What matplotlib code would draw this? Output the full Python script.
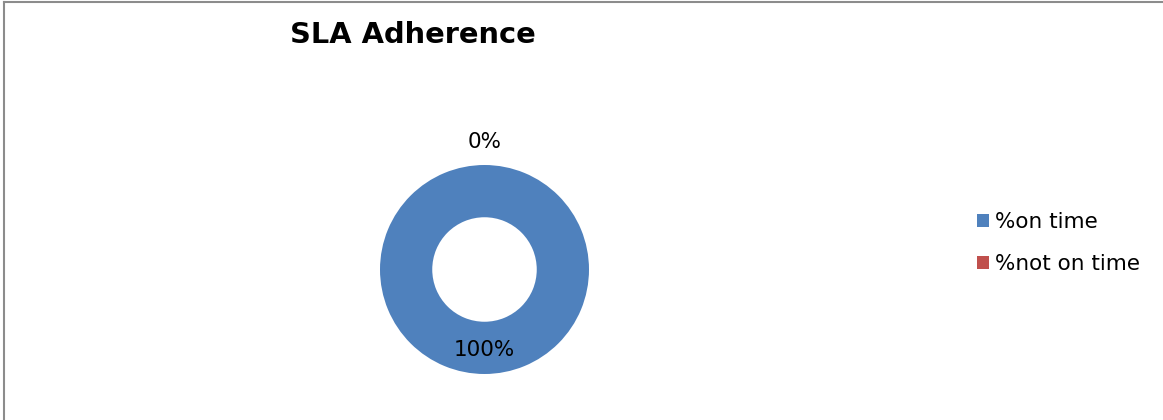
import matplotlib
matplotlib.use("Agg")
import matplotlib.pyplot as plt
from matplotlib.patches import Patch
from matplotlib.lines import Line2D
import numpy as np

categories = ["%on time", "%not on time"]
shares = [100, 0]
colors = ["#4f81bd", "#c0504d"]
pct_labels = ["100%", "0%"]

W, H = 1163, 420
fig = plt.figure(figsize=(W / 100, H / 100), dpi=100)
ax = fig.add_axes([0, 0, 1, 1])
ax.set_xlim(0, W)
ax.set_ylim(0, H)
ax.axis("off")

cx, cy, r = 484.5, H - 269.5, 104.5
wedges, _ = ax.pie(shares, colors=colors, startangle=90, counterclock=False,
                   center=(cx, cy), radius=r,
                   wedgeprops=dict(width=r * 0.5, edgecolor="none"))
ax.set_xlim(0, W)
ax.set_ylim(0, H)
ax.set_aspect("equal")

# data labels: big slice inside the ring, empty slice above it
for w, lab, dist in zip(wedges, pct_labels, [0.77, 1.22]):
    ang = np.deg2rad((w.theta1 + w.theta2) / 2)
    ax.text(cx + dist * r * np.cos(ang), cy + dist * r * np.sin(ang), lab,
            ha="center", va="center", fontsize=15.5, color="black")

fig.text(290 / W, 1 - 35 / H, "SLA Adherence", fontsize=20.8, fontweight="bold",
         ha="left", va="center")

handles = [Patch(facecolor=c, edgecolor="none") for c in colors]
fig.legend(handles, categories, loc="center left",
           bbox_to_anchor=(977 / W, 1 - 243 / H), frameon=False,
           fontsize=15.5, handlelength=0.55, handleheight=0.55,
           handletextpad=0.3, labelspacing=1.05, borderpad=0, borderaxespad=0)

# chart border (top and left visible)
fig.add_artist(Line2D([3.5 / W, 3.5 / W], [0, 1 - 2 / H], color="#8c8c8c", lw=1.5,
                      transform=fig.transFigure))
fig.add_artist(Line2D([3.5 / W, 1], [1 - 2 / H, 1 - 2 / H], color="#8c8c8c", lw=1.5,
                      transform=fig.transFigure))

fig.savefig("out.png", dpi=100)
